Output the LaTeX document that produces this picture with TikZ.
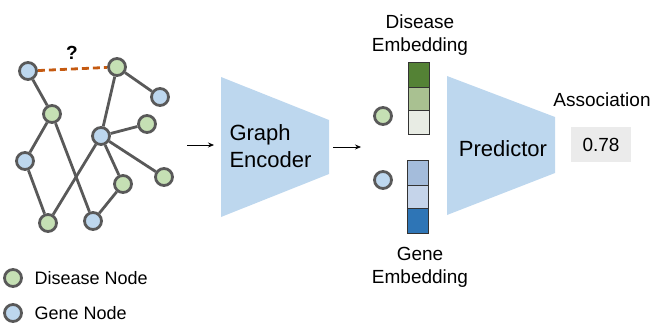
\documentclass[tikz,border=0pt]{standalone}
\usepackage{fontspec}
\setmainfont{Liberation Sans}
\usetikzlibrary{arrows.meta}
\definecolor{edgegray}{HTML}{595959}
\definecolor{dgreen}{HTML}{C5E0B4}
\definecolor{gblue}{HTML}{BDD7EE}
\definecolor{orangeE}{HTML}{C55A11}
\definecolor{trapblue}{HTML}{BDD7EE}
\definecolor{cg1}{HTML}{548235}
\definecolor{cg2}{HTML}{A9C191}
\definecolor{cg3}{HTML}{E8ECE4}
\definecolor{cb1}{HTML}{A4BCDB}
\definecolor{cb2}{HTML}{C5D4EA}
\definecolor{cb3}{HTML}{2E75B6}
\definecolor{boxgray}{HTML}{EBEBEB}
\begin{document}
\begin{tikzpicture}[x=1pt,y=-1pt,
  gnode/.style={circle, draw=edgegray, line width=2.8pt, minimum size=17pt, inner sep=0pt},
  dnode/.style={gnode, fill=dgreen},
  bnode/.style={gnode, fill=gblue},
  gedge/.style={draw=edgegray, line width=2.8pt},
  qedge/.style={draw=orangeE, line width=2.8pt, dash pattern=on 7pt off 4pt},
  trap/.style={fill=trapblue},
  cell/.style={draw=black!80, line width=0.8pt},
  arr/.style={-{Stealth[length=6pt,width=5pt]}, line width=0.7pt, black},
  lab/.style={font=\fontsize{19}{23}\selectfont, align=center},
  big/.style={font=\fontsize{22}{27}\selectfont},
  leg/.style={font=\fontsize{18}{22}\selectfont, anchor=west}
]
\useasboundingbox (0,0) rectangle (652,324);

% graph nodes
\node[bnode] (A) at (28,71) {};
\node[dnode] (B) at (117,67) {};
\node[bnode] (C) at (160,97) {};
\node[dnode] (D) at (52,114) {};
\node[bnode] (E) at (101,136) {};
\node[dnode] (F) at (147,124) {};
\node[bnode] (G) at (25,161) {};
\node[dnode] (H) at (123,184) {};
\node[dnode] (I) at (164,177) {};
\node[dnode] (J) at (48,223) {};
\node[bnode] (K) at (93,221) {};

\begin{scope}[on background layer/.style={}]
\draw[gedge] (A) -- (D);
\draw[gedge] (B) -- (C);
\draw[gedge] (B) -- (E);
\draw[gedge] (D) -- (G);
\draw[gedge] (D) -- (K);
\draw[gedge] (G) -- (J);
\draw[gedge] (E) -- (J);
\draw[gedge] (E) -- (F);
\draw[gedge] (E) -- (I);
\draw[gedge] (E) -- (H);
\draw[gedge] (H) -- (K);
\draw[qedge] (A) -- (B);
\end{scope}
\node[font=\bfseries\fontsize{19}{22}\selectfont] (q) at (72,53) {?};

% legend
\node[dnode] (ld) at (13,278) {};
\node[leg] (ldt) at (31,278) {Disease Node};
\node[bnode] (lb) at (13,313) {};
\node[leg] (lbt) at (31,313) {Gene Node};

% graph encoder
\fill[trap] (221,77) -- (329,120) -- (329,174) -- (221,217) -- cycle;
\node[big, align=left, anchor=west] (enc) at (226,146) {Graph\\Encoder};
\coordinate (a1s) at (187,145);
\coordinate (a1e) at (214,145);
\draw[arr] (a1s) -- (a1e);
\coordinate (a2s) at (333,147);
\coordinate (a2e) at (361,147);
\draw[arr] (a2s) -- (a2e);

% embeddings
\node[dnode] (ed) at (383,116) {};
\node[bnode] (eb) at (383,180) {};
\filldraw[cell, fill=cg1] (408,62) rectangle (429,87);
\filldraw[cell, fill=cg2] (408,87) rectangle (429,110);
\filldraw[cell, fill=cg3] (408,110) rectangle (429,134);
\filldraw[cell, fill=cb1] (407,160) rectangle (428,185);
\filldraw[cell, fill=cb2] (407,185) rectangle (428,208);
\filldraw[cell, fill=cb3] (407,208) rectangle (428,233);
\node[lab] (dl) at (420,35) {Disease\\Embedding};
\node[lab] (gl) at (420,267) {Gene\\Embedding};

% predictor
\fill[trap] (447,76) -- (555,117) -- (555,173) -- (447,215) -- cycle;
\node[big] (pred) at (503,149) {Predictor};

% association
\node[lab] (asl) at (602,100) {Association};
\node[lab, fill=boxgray, minimum width=60pt, minimum height=35pt, inner sep=0pt] (val) at (601,144.5) {0.78};
\end{tikzpicture}
\end{document}
